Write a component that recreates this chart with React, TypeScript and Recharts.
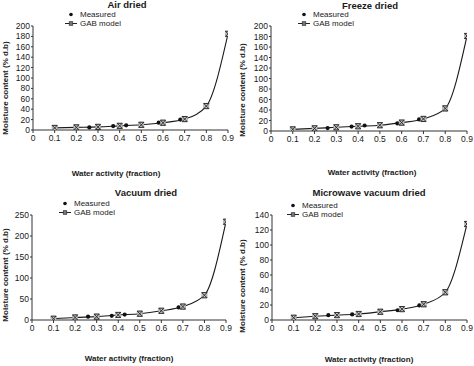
import React from "react";
import { ComposedChart, Line, XAxis, YAxis, Legend } from "recharts";

// ---------- data ----------
const modelAw = [0.1, 0.2, 0.3, 0.4, 0.5, 0.6, 0.7, 0.8, 0.9];
const measuredAw = [0.26, 0.37, 0.43, 0.58, 0.68];
const xTicks = [0, 0.1, 0.2, 0.3, 0.4, 0.5, 0.6, 0.7, 0.8, 0.9];

const airModel = [4, 5, 6, 8, 10, 14, 21, 46, 185];
const airMeasured = [5, 7.5, 9, 14, 20];

const freezeModel = [3, 5, 7, 9, 11, 16, 23, 43, 181];
const freezeMeasured = [5.5, 8.5, 10.5, 14.5, 22];

const vacuumModel = [3, 6, 8, 12, 15, 22, 32, 59, 234];
const vacuumMeasured = [8, 10, 13, null, 30];

const microModel = [3, 5, 6.5, 8, 11, 14.5, 21, 37, 128];
const microMeasured = [6.5, 7.5, null, 13, 19.5];

const titles = ["Air dried", "Freeze dried", "Vacuum dried", "Microwave vacuum dried"];
const xLabel = "Water activity (fraction)";
const yLabel = "Moisture content (% d.b)";

const FONT = "'Liberation Sans', Arial, sans-serif";
const TEXT = "#1a1a1a";
const AXIS = "#333";

const toPoints = (xs: number[], ys: (number | null)[]) =>
  xs.map((x, i) => ({ x, y: ys[i] })).filter((p) => p.y !== null);

const GabMarker = (props: any) => {
  const { cx, cy } = props;
  if (typeof cx !== "number" || typeof cy !== "number") return null;
  const s = 2.6;
  return (
    <g key={`g-${cx}-${cy}`}>
      <rect x={cx - s} y={cy - s} width={2 * s} height={2 * s} fill="#c4c4c4" stroke="#9a9a9a" strokeWidth={0.6} />
      <line x1={cx - s} y1={cy - s} x2={cx + s} y2={cy - s} stroke="#222" strokeWidth={0.9} />
      <line x1={cx - s} y1={cy + s} x2={cx + s} y2={cy + s} stroke="#222" strokeWidth={0.9} />
      <line x1={cx - s} y1={cy - s} x2={cx + s} y2={cy + s} stroke="#222" strokeWidth={0.9} />
      <line x1={cx + s} y1={cy - s} x2={cx - s} y2={cy + s} stroke="#222" strokeWidth={0.9} />
    </g>
  );
};

const MeasDot = (props: any) => {
  const { cx, cy } = props;
  if (typeof cx !== "number" || typeof cy !== "number") return null;
  return <circle key={`m-${cx}-${cy}`} cx={cx} cy={cy} r={2.1} fill="#111" />;
};

type PanelCfg = {
  left: number;
  top: number;
  title: string;
  titleX: number;
  titleY: number;
  model: number[];
  measured: (number | null)[];
  yMax: number;
  yTicks: number[];
  yAxisW: number;
  marginTop: number;
  marginRight: number;
  xAxisH: number;
  legendX: number;
  legendY: number;
  yLabelX: number;
  yLabelY: number;
  xLabelX: number;
  xLabelY: number;
};

const range = (max: number, step: number) => {
  const out: number[] = [];
  for (let v = 0; v <= max; v += step) out.push(v);
  return out;
};

const panels: PanelCfg[] = [
  {
    left: 0, top: 0, title: titles[0], titleX: 127, titleY: 5,
    model: airModel, measured: airMeasured, yMax: 200, yTicks: range(200, 20),
    yAxisW: 33, marginTop: 26, marginRight: 9, xAxisH: 33,
    legendX: 64, legendY: 10, yLabelX: 6, yLabelY: 88, xLabelX: 116, xLabelY: 174,
  },
  {
    left: 237, top: 0, title: titles[1], titleX: 133, titleY: 6,
    model: freezeModel, measured: freezeMeasured, yMax: 200, yTicks: range(200, 20),
    yAxisW: 34, marginTop: 26, marginRight: 7, xAxisH: 32,
    legendX: 60, legendY: 10, yLabelX: 6, yLabelY: 90, xLabelX: 135, xLabelY: 173,
  },
  {
    left: 0, top: 183, title: titles[2], titleX: 146, titleY: 10,
    model: vacuumModel, measured: vacuumMeasured, yMax: 250, yTicks: range(250, 50),
    yAxisW: 32, marginTop: 32, marginRight: 11, xAxisH: 26,
    legendX: 58, legendY: 16, yLabelX: 6, yLabelY: 92, xLabelX: 129, xLabelY: 176,
  },
  {
    left: 237, top: 183, title: titles[3], titleX: 132, titleY: 10,
    model: microModel, measured: microMeasured, yMax: 140, yTicks: range(140, 20),
    yAxisW: 35, marginTop: 32, marginRight: 7, xAxisH: 26,
    legendX: 49, legendY: 18, yLabelX: 6, yLabelY: 103, xLabelX: 132, xLabelY: 177,
  },
];

const LegendBox = ({ x, y }: { x: number; y: number }) => (
  <div style={{ position: "absolute", left: x, top: y, fontFamily: FONT, fontSize: 8, color: TEXT, lineHeight: "9px" }}>
    <div style={{ display: "flex", alignItems: "center", height: 9 }}>
      <svg width={14} height={9} style={{ display: "block" }}>
        <circle cx={7} cy={4.5} r={1.8} fill="#111" />
      </svg>
      <span style={{ marginLeft: 2 }}>Measured</span>
    </div>
    <div style={{ display: "flex", alignItems: "center", height: 9 }}>
      <svg width={14} height={9} style={{ display: "block" }}>
        <line x1={1} y1={4.5} x2={13} y2={4.5} stroke="#222" strokeWidth={1} />
        <rect x={5.2} y={2.7} width={3.6} height={3.6} fill="#777" stroke="#222" strokeWidth={0.6} />
      </svg>
      <span style={{ marginLeft: 2 }}>GAB model</span>
    </div>
  </div>
);

const Panel = ({ cfg }: { cfg: PanelCfg }) => {
  const W = 237;
  const H = 183;
  const modelData = toPoints(modelAw, cfg.model);
  const measData = toPoints(measuredAw, cfg.measured);
  return (
    <div style={{ position: "absolute", left: cfg.left, top: cfg.top, width: W, height: H }}>
      <ComposedChart
        width={W}
        height={H}
        margin={{ top: cfg.marginTop, right: cfg.marginRight, left: 0, bottom: 0 }}
      >
        <XAxis
          type="number"
          dataKey="x"
          domain={[0, 0.9]}
          ticks={xTicks}
          interval={0}
          allowDataOverflow
          height={cfg.xAxisH}
          tickSize={3}
          tickMargin={2}
          stroke={AXIS}
          tick={{ fill: TEXT, fontSize: 8.5, fontFamily: FONT }}
          tickFormatter={(v: number) => (v === 0 ? "0" : String(Math.round(v * 10) / 10))}
        />
        <YAxis
          type="number"
          dataKey="y"
          domain={[0, cfg.yMax]}
          ticks={cfg.yTicks}
          interval={0}
          allowDataOverflow
          width={cfg.yAxisW}
          tickSize={2}
          tickMargin={1}
          stroke={AXIS}
          tick={{ fill: TEXT, fontSize: 8.5, fontFamily: FONT }}
        />
        <Legend
          content={() => <LegendBox x={0} y={0} />}
          wrapperStyle={{ position: "absolute", left: cfg.legendX, top: cfg.legendY, width: 80, height: 20 }}
        />
        <Line
          data={measData}
          dataKey="y"
          name="Measured"
          stroke="none"
          dot={MeasDot}
          activeDot={false}
          isAnimationActive={false}
        />
        <Line
          data={modelData}
          dataKey="y"
          name="GAB model"
          type="monotone"
          stroke="#1a1a1a"
          strokeWidth={1.1}
          dot={GabMarker}
          activeDot={false}
          isAnimationActive={false}
        />
      </ComposedChart>
      <div
        style={{
          position: "absolute", left: cfg.titleX - 80, top: cfg.titleY - 6, width: 160, textAlign: "center",
          fontFamily: FONT, fontWeight: "bold", fontSize: 9.5, lineHeight: "12px", color: TEXT,
        }}
      >
        {cfg.title}
      </div>
      <div
        style={{
          position: "absolute", left: cfg.xLabelX - 80, top: cfg.xLabelY - 5, width: 160, textAlign: "center",
          fontFamily: FONT, fontWeight: "bold", fontSize: 8, lineHeight: "10px", color: TEXT,
        }}
      >
        {xLabel}
      </div>
      <div
        style={{
          position: "absolute", left: cfg.yLabelX - 70, top: cfg.yLabelY - 5, width: 140, textAlign: "center",
          fontFamily: FONT, fontWeight: "bold", fontSize: 8, lineHeight: "10px", color: TEXT,
          transform: "rotate(-90deg)", transformOrigin: "50% 50%", whiteSpace: "nowrap",
        }}
      >
        {yLabel}
      </div>
    </div>
  );
};

export default function App() {
  return (
    <div style={{ position: "absolute", left: 0, top: 0, width: 474, height: 366, background: "#fff", overflow: "hidden" }}>
      {panels.map((p, i) => (
        <Panel key={i} cfg={p} />
      ))}
    </div>
  );
}
